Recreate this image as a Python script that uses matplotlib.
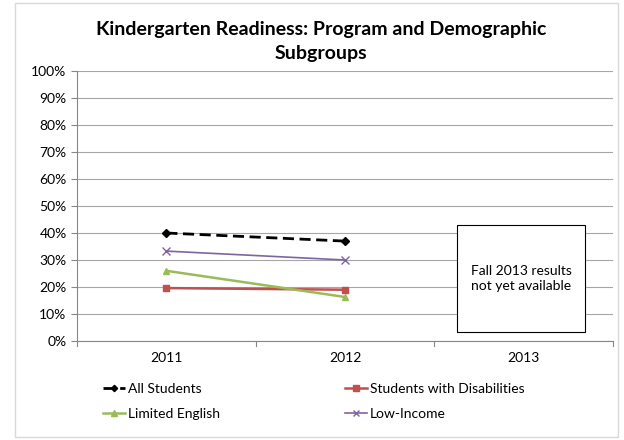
import matplotlib.pyplot as plt
from matplotlib.patches import Rectangle

plt.rcParams['font.family'] = ['Lato', 'DejaVu Sans']

years = ['2011', '2012', '2013']
all_students = [40.0, 37.0]
swd = [19.6, 19.0]
limited_english = [26.0, 16.3]
low_income = [33.3, 30.0]
yticks = list(range(0, 101, 10))

fig = plt.figure(figsize=(6.24, 4.4), dpi=100)
ax = fig.add_axes([0.1234, 0.225, 0.859, 0.6136])

# outer chart border
fig.patches.append(Rectangle((0.024, 0.007), 0.967, 0.986, transform=fig.transFigure,
                             fill=False, edgecolor='#d9d9d9', linewidth=1))

x = [0, 1]
l1, = ax.plot(x, all_students, color='black', linestyle=(0, (4, 2)), linewidth=2,
              marker='D', markersize=4, label='All Students')
l2, = ax.plot(x, swd, color='#c0504d', linewidth=1.8, marker='s', markersize=5,
              label='Students with Disabilities')
l3, = ax.plot(x, limited_english, color='#9bbb59', linewidth=1.8, marker='^', markersize=5,
              label='Limited English')
l4, = ax.plot(x, low_income, color='#8064a2', linewidth=1.2, marker='x', markersize=6,
              label='Low-Income')

ax.set_xlim(-0.5, 2.5)
ax.set_ylim(0, 100)
ax.set_xticks(range(len(years)))
ax.set_xticklabels(years, fontsize=10)
ax.set_yticks(yticks)
ax.set_yticklabels(['%d%%' % v for v in yticks], fontsize=10)
ax.yaxis.grid(True, color='#a6a6a6', linewidth=0.8)
ax.set_axisbelow(True)
for s in ['top', 'right']:
    ax.spines[s].set_visible(False)
ax.spines['left'].set_color('#868686')
ax.spines['bottom'].set_color('#868686')
ax.tick_params(axis='x', length=0, pad=8)
ax.tick_params(axis='y', length=4, color='#868686')
# category separators on x axis
for b in [-0.5, 0.5, 1.5, 2.5]:
    ax.plot([b, b], [0, -1.8], color='#868686', linewidth=0.8, clip_on=False)

ax.add_patch(Rectangle((1.626, 3.3), 0.717, 39.7, facecolor='white',
                       edgecolor='black', linewidth=0.8, zorder=3))
ax.text(1.985, 23, 'Fall 2013 results\nnot yet available', ha='center', va='center',
        fontsize=10, zorder=4, linespacing=1.3)

fig.text(0.515, 0.905, 'Kindergarten Readiness: Program and Demographic\nSubgroups',
         ha='center', va='center', fontsize=14, fontweight='bold', linespacing=1.5)

fig.legend([l1, l3, l2, l4], [h.get_label() for h in [l1, l3, l2, l4]],
           loc='upper left', bbox_to_anchor=(0.145, 0.158), ncol=2, frameon=False,
           fontsize=10, columnspacing=9.0, handlelength=1.6, handletextpad=0.2,
           labelspacing=0.95, markerscale=0.8)

fig.savefig('out.png', dpi=100)
